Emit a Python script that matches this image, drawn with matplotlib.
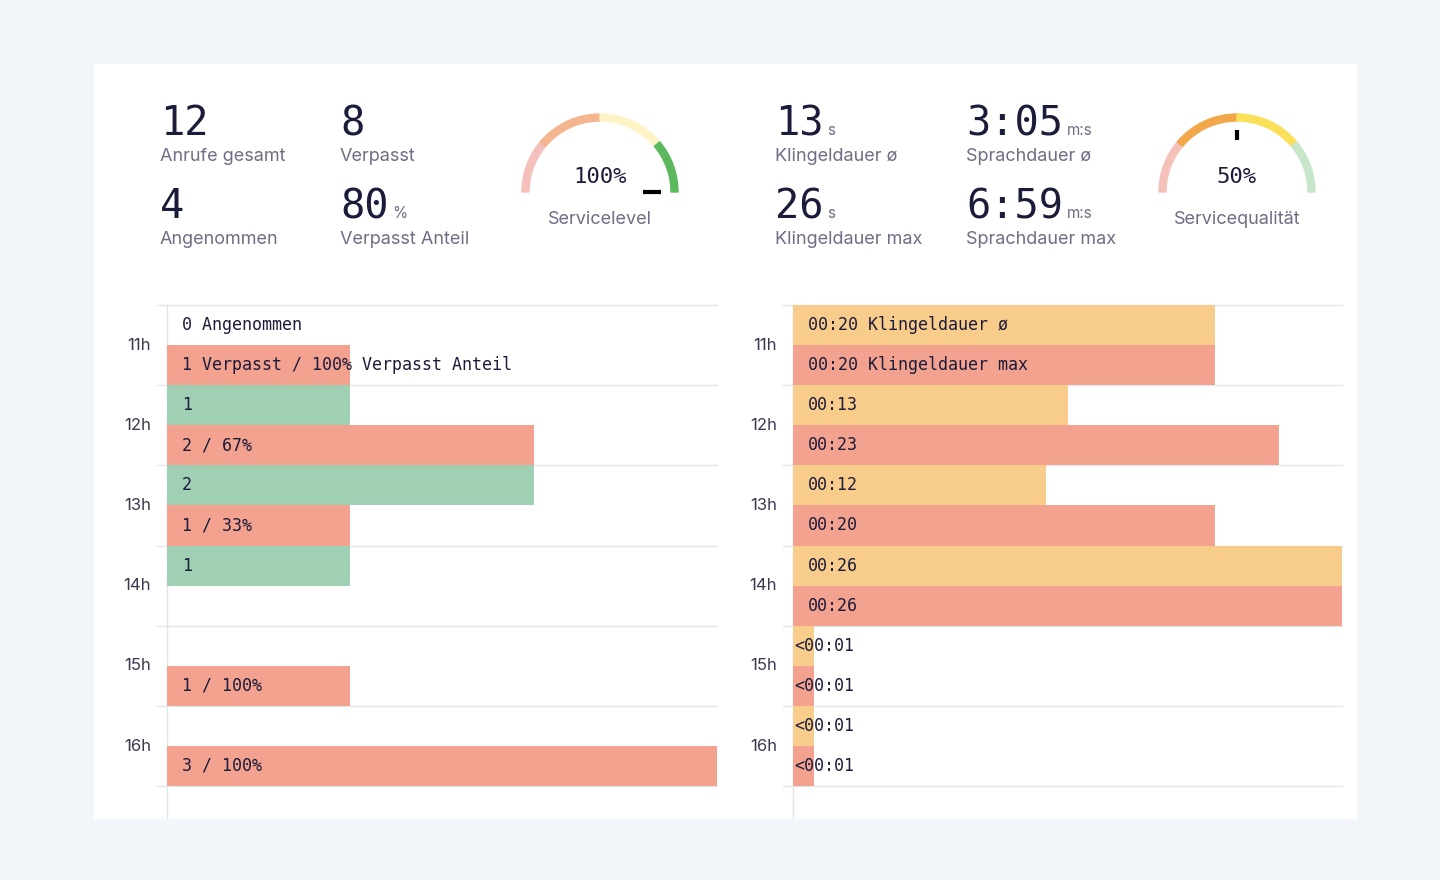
import matplotlib
matplotlib.use("Agg")
import matplotlib.pyplot as plt
from matplotlib.patches import Wedge, Rectangle
import numpy as np

hours = ["11h", "12h", "13h", "14h", "15h", "16h"]
answered = [0, 1, 2, 1, 0, 0]
missed = [1, 2, 1, 0, 1, 3]
answered_labels = ["0 Angenommen", "1", "2", "1", "", ""]
missed_labels = ["1 Verpasst / 100% Verpasst Anteil", "2 / 67%", "1 / 33%", "", "1 / 100%", "3 / 100%"]
ring_avg = [20, 13, 12, 26, 1, 1]
ring_max = [20, 23, 20, 26, 1, 1]
ring_avg_labels = ["00:20 Klingeldauer ø", "00:13", "00:12", "00:26", "<00:01", "<00:01"]
ring_max_labels = ["00:20 Klingeldauer max", "00:23", "00:20", "00:26", "<00:01", "<00:01"]

kpis = [("12", "", "Anrufe gesamt", 160, 120), ("8", "", "Verpasst", 340, 120),
        ("4", "", "Angenommen", 160, 203), ("80", "%", "Verpasst Anteil", 340, 203),
        ("13", "s", "Klingeldauer ø", 775, 120), ("3:05", "m:s", "Sprachdauer ø", 966, 120),
        ("26", "s", "Klingeldauer max", 775, 203), ("6:59", "m:s", "Sprachdauer max", 966, 203)]

DARK = "#1b1b3a"; GRAY = "#6e6e85"
GREEN = "#9fd0b4"; RED = "#f3a28f"; YEL = "#f8cd8c"
MONO = "DejaVu Sans Mono"; SANS = "Inter"

fig = plt.figure(figsize=(14.4, 8.8), dpi=100)
bg = fig.add_axes([0, 0, 1, 1])
bg.set_xlim(0, 1440); bg.set_ylim(0, 880); bg.axis("off")
bg.add_patch(Rectangle((0, 0), 1440, 880, color="#f2f5f9", zorder=0))
bg.add_patch(Rectangle((94, 880-818), 1262, 754, color="white", zorder=1))

def Y(y): return 880 - y

for big, unit, lab, x, y in kpis:
    t = bg.text(x, Y(y + 15), big, fontsize=29, family=MONO, color=DARK, va="baseline", ha="left", zorder=3)
    if unit:
        fig.canvas.draw()
        bb = t.get_window_extent()
        bg.text(bb.x1 + 4, Y(y + 15), unit, fontsize=11, family=SANS, color=GRAY, va="baseline", zorder=3)
    bg.text(x, Y(y + 36), lab, fontsize=13, family=SANS, color=GRAY, va="center", zorder=3)

def gauge(cx, cy, cols, pct, label):
    segs = [(140, 180), (90, 140), (40, 90), (0, 40)]
    for (a0, a1), c in zip(segs, cols):
        bg.add_patch(Wedge((cx, Y(cy)), 78, a0, a1, width=7, color=c, zorder=3))
    ang = np.deg2rad(180 - 180 * pct / 100)
    r0, r1 = 52, 62
    if pct >= 100:
        r0, r1 = 43, 61
    bg.plot([cx + r0*np.cos(ang), cx + r1*np.cos(ang)], [Y(cy) + r0*np.sin(ang), Y(cy) + r1*np.sin(ang)],
            color="black", lw=3, solid_capstyle="butt", zorder=4)
    bg.text(cx, Y(cy - 15), f"{pct}%", fontsize=16, family=MONO, color=DARK, ha="center", va="center", zorder=4)
    bg.text(cx, Y(cy + 27), label, fontsize=13, family=SANS, color=GRAY, ha="center", va="center", zorder=4)

gauge(600, 192, ["#f5c0bb", "#f5b58e", "#fdf3c4", "#5cb85c"], 100, "Servicelevel")
gauge(1237, 192, ["#f7c1bb", "#f2a84a", "#fbe05a", "#c8e6c9"], 50, "Servicequalität")

def bar_panel(x0, x1, xmax, top, bot, topc, botc, toplab, botlab, ylab_x):
    ax = fig.add_axes([x0/1440, (880-786)/880, (x1-x0)/1440, (786-305)/880])
    ax.set_xlim(0, xmax); ax.set_ylim(len(hours)*2, 0)
    ax.axis("off")
    n = len(hours)
    ytop = np.arange(n)*2 + 0.5
    ybot = np.arange(n)*2 + 1.5
    ax.barh(ytop, top, height=1.0, color=topc, zorder=2)
    ax.barh(ybot, bot, height=1.0, color=botc, zorder=2)
    off = xmax * 15 / (x1 - x0)
    for i in range(n):
        for yy, lab in ((ytop[i], toplab[i]), (ybot[i], botlab[i])):
            if lab:
                o = off if not lab.startswith("<") else off * 0.05
                ax.text(o, yy, lab, family=MONO, fontsize=12, color=DARK, va="center", ha="left", zorder=3)
    for k in range(n + 1):
        bg.plot([x0 - 10, x1], [Y(305 + 80.2*k)]*2, color="#e3e5ea", lw=1, zorder=2)
    bg.plot([x0, x0], [Y(305), Y(818)], color="#e3e5ea", lw=1, zorder=5)
    for i, h in enumerate(hours):
        bg.text(ylab_x, Y(345 + 80.2*i), h, fontsize=12, family=SANS, color="#3a3a50", ha="right", va="center", zorder=3)

bar_panel(167, 717, 3, answered, missed, GREEN, RED, answered_labels, missed_labels, 151)
bar_panel(793, 1342, 26, ring_avg, ring_max, YEL, RED, ring_avg_labels, ring_max_labels, 777)

fig.savefig("out.png", dpi=100)
